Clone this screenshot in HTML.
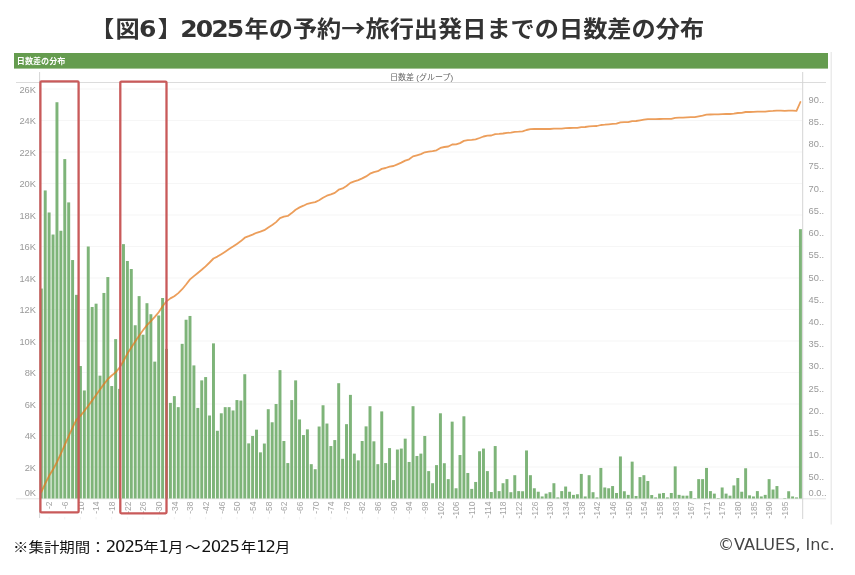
<!DOCTYPE html>
<html lang="ja"><head><meta charset="utf-8"><title>図6</title>
<style>
html,body{margin:0;padding:0;background:#fff;}
body{width:855px;height:575px;overflow:hidden;position:relative;font-family:"Liberation Sans","Noto Sans CJK JP",sans-serif;}
#title{position:absolute;left:89.5px;top:6.6px;font-family:"Noto Sans CJK JP",sans-serif;font-weight:bold;font-size:22.2px;line-height:40px;color:#333;white-space:nowrap;transform-origin:0 0;transform:scaleX(1.09);}
#title b{font-family:"DejaVu Sans",sans-serif;font-weight:bold;font-size:23px;letter-spacing:-1.8px;}
#foot{position:absolute;left:12.5px;top:533.9px;font-family:"Noto Sans CJK JP",sans-serif;font-size:14.1px;line-height:24px;color:#111;white-space:nowrap;transform-origin:0 0;transform:scaleX(1.096);}
#foot i{font-family:"DejaVu Sans",sans-serif;font-style:normal;font-size:15px;letter-spacing:-1.0px;}
#copy{position:absolute;left:718.1px;top:532.7px;font-family:"DejaVu Sans",sans-serif;font-size:16.5px;line-height:24px;color:#444;white-space:nowrap;transform-origin:0 0;transform:scaleX(0.975);}
svg{position:absolute;left:0;top:0;}
svg text{font-family:"Liberation Sans","Noto Sans CJK JP",sans-serif;}
</style></head><body>
<div id="title">【<span style="margin-left:1.2px">図</span><b style="margin-left:-0.7px">6</b><span style="margin-left:3.1px">】</span><b style="margin-left:-1.5px">2025</b><span style="margin-left:2.1px">年</span>の予約→旅行出発日までの日数差の分布</div>
<svg width="855" height="575" viewBox="0 0 855 575">

<rect x="14" y="53" width="814" height="15.6" fill="#659c4f"/>
<text x="16.8" y="64" font-size="8.1" font-weight="bold" fill="#fff">日数差の分布</text>
<line x1="831.2" y1="52" x2="831.2" y2="524.5" stroke="#e6e6e6" stroke-width="1.2"/>
<text x="421.6" y="80" font-size="8" fill="#666" text-anchor="middle">日数差 (グループ)</text>
<line x1="40" y1="467.00" x2="802" y2="467.00" stroke="#f6f6f6" stroke-width="1.2"/>
<line x1="40" y1="435.50" x2="802" y2="435.50" stroke="#f6f6f6" stroke-width="1.2"/>
<line x1="40" y1="404.00" x2="802" y2="404.00" stroke="#f6f6f6" stroke-width="1.2"/>
<line x1="40" y1="372.50" x2="802" y2="372.50" stroke="#f6f6f6" stroke-width="1.2"/>
<line x1="40" y1="341.00" x2="802" y2="341.00" stroke="#f6f6f6" stroke-width="1.2"/>
<line x1="40" y1="309.50" x2="802" y2="309.50" stroke="#f6f6f6" stroke-width="1.2"/>
<line x1="40" y1="278.00" x2="802" y2="278.00" stroke="#f6f6f6" stroke-width="1.2"/>
<line x1="40" y1="246.50" x2="802" y2="246.50" stroke="#f6f6f6" stroke-width="1.2"/>
<line x1="40" y1="215.00" x2="802" y2="215.00" stroke="#f6f6f6" stroke-width="1.2"/>
<line x1="40" y1="183.50" x2="802" y2="183.50" stroke="#f6f6f6" stroke-width="1.2"/>
<line x1="40" y1="152.00" x2="802" y2="152.00" stroke="#f6f6f6" stroke-width="1.2"/>
<line x1="40" y1="120.50" x2="802" y2="120.50" stroke="#f6f6f6" stroke-width="1.2"/>
<line x1="40" y1="89.00" x2="802" y2="89.00" stroke="#f6f6f6" stroke-width="1.2"/>
<line x1="16" y1="82.5" x2="826" y2="82.5" stroke="#dcdcdc" stroke-width="1"/>
<line x1="16" y1="498.8" x2="826" y2="498.8" stroke="#e4e4e4" stroke-width="1"/>
<line x1="39.6" y1="72" x2="39.6" y2="518" stroke="#d4d4d4" stroke-width="1"/>
<line x1="802.7" y1="72" x2="802.7" y2="519" stroke="#d4d4d4" stroke-width="1"/>
<text x="36" y="470.6" font-size="9.3" fill="#999" text-anchor="end">2K</text>
<text x="36" y="439.1" font-size="9.3" fill="#999" text-anchor="end">4K</text>
<text x="36" y="407.6" font-size="9.3" fill="#999" text-anchor="end">6K</text>
<text x="36" y="376.1" font-size="9.3" fill="#999" text-anchor="end">8K</text>
<text x="36" y="344.6" font-size="9.3" fill="#999" text-anchor="end">10K</text>
<text x="36" y="313.1" font-size="9.3" fill="#999" text-anchor="end">12K</text>
<text x="36" y="281.6" font-size="9.3" fill="#999" text-anchor="end">14K</text>
<text x="36" y="250.1" font-size="9.3" fill="#999" text-anchor="end">16K</text>
<text x="36" y="218.6" font-size="9.3" fill="#999" text-anchor="end">18K</text>
<text x="36" y="187.1" font-size="9.3" fill="#999" text-anchor="end">20K</text>
<text x="36" y="155.6" font-size="9.3" fill="#999" text-anchor="end">22K</text>
<text x="36" y="124.1" font-size="9.3" fill="#999" text-anchor="end">24K</text>
<text x="36" y="92.6" font-size="9.3" fill="#999" text-anchor="end">26K</text>
<text x="36" y="496.4" font-size="9.3" fill="#999" text-anchor="end">0K</text>
<text x="808.6" y="458.3" font-size="9.3" fill="#999">10..</text>
<text x="808.6" y="436.0" font-size="9.3" fill="#999">15..</text>
<text x="808.6" y="413.8" font-size="9.3" fill="#999">20..</text>
<text x="808.6" y="391.6" font-size="9.3" fill="#999">25..</text>
<text x="808.6" y="369.4" font-size="9.3" fill="#999">30..</text>
<text x="808.6" y="347.2" font-size="9.3" fill="#999">35..</text>
<text x="808.6" y="324.9" font-size="9.3" fill="#999">40..</text>
<text x="808.6" y="302.7" font-size="9.3" fill="#999">45..</text>
<text x="808.6" y="280.5" font-size="9.3" fill="#999">50..</text>
<text x="808.6" y="258.3" font-size="9.3" fill="#999">55..</text>
<text x="808.6" y="236.1" font-size="9.3" fill="#999">60..</text>
<text x="808.6" y="213.8" font-size="9.3" fill="#999">65..</text>
<text x="808.6" y="191.6" font-size="9.3" fill="#999">70..</text>
<text x="808.6" y="169.4" font-size="9.3" fill="#999">75..</text>
<text x="808.6" y="147.2" font-size="9.3" fill="#999">80..</text>
<text x="808.6" y="125.0" font-size="9.3" fill="#999">85..</text>
<text x="808.6" y="102.7" font-size="9.3" fill="#999">90..</text>
<text x="808.6" y="480.4" font-size="9.3" fill="#999">50..</text>
<text x="808.6" y="496.2" font-size="9.3" fill="#999">0.0..</text>
<g fill="#7eb479">
<rect x="39.82" y="288.55" width="2.95" height="209.95"/>
<rect x="43.74" y="190.43" width="2.95" height="308.07"/>
<rect x="47.65" y="212.48" width="2.95" height="286.02"/>
<rect x="51.56" y="234.53" width="2.95" height="263.97"/>
<rect x="55.48" y="102.23" width="2.95" height="396.27"/>
<rect x="59.39" y="230.75" width="2.95" height="267.75"/>
<rect x="63.30" y="159.09" width="2.95" height="339.41"/>
<rect x="67.22" y="202.40" width="2.95" height="296.10"/>
<rect x="71.13" y="260.04" width="2.95" height="238.46"/>
<rect x="75.04" y="294.85" width="2.95" height="203.65"/>
<rect x="78.95" y="366.04" width="2.95" height="132.46"/>
<rect x="82.87" y="390.45" width="2.95" height="108.05"/>
<rect x="86.78" y="246.50" width="2.95" height="252.00"/>
<rect x="90.69" y="306.98" width="2.95" height="191.52"/>
<rect x="94.61" y="303.67" width="2.95" height="194.83"/>
<rect x="98.52" y="375.65" width="2.95" height="122.85"/>
<rect x="102.43" y="292.96" width="2.95" height="205.54"/>
<rect x="106.35" y="277.05" width="2.95" height="221.45"/>
<rect x="110.26" y="386.05" width="2.95" height="112.45"/>
<rect x="114.17" y="339.11" width="2.95" height="159.39"/>
<rect x="118.08" y="388.88" width="2.95" height="109.62"/>
<rect x="122.00" y="244.14" width="2.95" height="254.36"/>
<rect x="125.91" y="260.99" width="2.95" height="237.51"/>
<rect x="129.82" y="269.02" width="2.95" height="229.48"/>
<rect x="133.74" y="325.25" width="2.95" height="173.25"/>
<rect x="137.65" y="296.11" width="2.95" height="202.39"/>
<rect x="141.56" y="334.70" width="2.95" height="163.80"/>
<rect x="145.48" y="303.20" width="2.95" height="195.30"/>
<rect x="149.39" y="314.23" width="2.95" height="184.27"/>
<rect x="153.30" y="361.63" width="2.95" height="136.87"/>
<rect x="157.22" y="315.49" width="2.95" height="183.01"/>
<rect x="161.13" y="298.00" width="2.95" height="200.50"/>
<rect x="165.04" y="348.88" width="2.95" height="149.62"/>
<rect x="168.95" y="402.90" width="2.95" height="95.60"/>
<rect x="172.87" y="396.12" width="2.95" height="102.38"/>
<rect x="176.78" y="407.15" width="2.95" height="91.35"/>
<rect x="180.69" y="343.84" width="2.95" height="154.66"/>
<rect x="184.61" y="319.74" width="2.95" height="178.76"/>
<rect x="188.52" y="315.96" width="2.95" height="182.54"/>
<rect x="192.43" y="365.41" width="2.95" height="133.09"/>
<rect x="196.34" y="407.94" width="2.95" height="90.56"/>
<rect x="200.26" y="380.38" width="2.95" height="118.12"/>
<rect x="204.17" y="377.07" width="2.95" height="121.43"/>
<rect x="208.08" y="415.50" width="2.95" height="83.00"/>
<rect x="212.00" y="343.36" width="2.95" height="155.14"/>
<rect x="215.91" y="430.77" width="2.95" height="67.73"/>
<rect x="219.82" y="413.29" width="2.95" height="85.21"/>
<rect x="223.74" y="407.15" width="2.95" height="91.35"/>
<rect x="227.65" y="407.15" width="2.95" height="91.35"/>
<rect x="231.56" y="410.46" width="2.95" height="88.04"/>
<rect x="235.47" y="400.06" width="2.95" height="98.44"/>
<rect x="239.39" y="400.54" width="2.95" height="97.96"/>
<rect x="243.30" y="374.23" width="2.95" height="124.27"/>
<rect x="247.21" y="443.38" width="2.95" height="55.12"/>
<rect x="251.13" y="435.97" width="2.95" height="62.53"/>
<rect x="255.04" y="429.67" width="2.95" height="68.83"/>
<rect x="258.95" y="452.35" width="2.95" height="46.15"/>
<rect x="262.87" y="443.53" width="2.95" height="54.97"/>
<rect x="266.78" y="409.20" width="2.95" height="89.30"/>
<rect x="270.69" y="422.27" width="2.95" height="76.23"/>
<rect x="274.60" y="404.00" width="2.95" height="94.50"/>
<rect x="278.52" y="370.14" width="2.95" height="128.36"/>
<rect x="282.43" y="441.01" width="2.95" height="57.49"/>
<rect x="286.34" y="463.06" width="2.95" height="35.44"/>
<rect x="290.26" y="400.06" width="2.95" height="98.44"/>
<rect x="294.17" y="380.38" width="2.95" height="118.12"/>
<rect x="298.08" y="419.44" width="2.95" height="79.06"/>
<rect x="302.00" y="435.03" width="2.95" height="63.47"/>
<rect x="305.91" y="429.36" width="2.95" height="69.14"/>
<rect x="309.82" y="464.17" width="2.95" height="34.33"/>
<rect x="313.73" y="469.20" width="2.95" height="29.30"/>
<rect x="317.65" y="426.52" width="2.95" height="71.98"/>
<rect x="321.56" y="405.26" width="2.95" height="93.24"/>
<rect x="325.47" y="423.53" width="2.95" height="74.97"/>
<rect x="329.39" y="446.05" width="2.95" height="52.45"/>
<rect x="333.30" y="440.07" width="2.95" height="58.43"/>
<rect x="337.21" y="383.21" width="2.95" height="115.29"/>
<rect x="341.13" y="458.81" width="2.95" height="39.69"/>
<rect x="345.04" y="424.16" width="2.95" height="74.34"/>
<rect x="348.95" y="394.87" width="2.95" height="103.63"/>
<rect x="352.86" y="453.61" width="2.95" height="44.89"/>
<rect x="356.78" y="460.38" width="2.95" height="38.12"/>
<rect x="360.69" y="441.01" width="2.95" height="57.49"/>
<rect x="364.60" y="426.37" width="2.95" height="72.13"/>
<rect x="368.52" y="406.20" width="2.95" height="92.30"/>
<rect x="372.43" y="441.33" width="2.95" height="57.17"/>
<rect x="376.34" y="464.17" width="2.95" height="34.33"/>
<rect x="380.26" y="411.40" width="2.95" height="87.10"/>
<rect x="384.17" y="463.06" width="2.95" height="35.44"/>
<rect x="388.08" y="448.10" width="2.95" height="50.40"/>
<rect x="391.99" y="480.07" width="2.95" height="18.43"/>
<rect x="395.91" y="449.52" width="2.95" height="48.98"/>
<rect x="399.82" y="448.57" width="2.95" height="49.93"/>
<rect x="403.73" y="438.65" width="2.95" height="59.85"/>
<rect x="407.65" y="461.96" width="2.95" height="36.54"/>
<rect x="411.56" y="406.20" width="2.95" height="92.30"/>
<rect x="415.47" y="455.98" width="2.95" height="42.52"/>
<rect x="419.39" y="453.61" width="2.95" height="44.89"/>
<rect x="423.30" y="435.97" width="2.95" height="62.53"/>
<rect x="427.21" y="471.10" width="2.95" height="27.40"/>
<rect x="431.12" y="483.22" width="2.95" height="15.28"/>
<rect x="435.04" y="465.11" width="2.95" height="33.39"/>
<rect x="438.95" y="413.29" width="2.95" height="85.21"/>
<rect x="442.86" y="463.22" width="2.95" height="35.28"/>
<rect x="446.78" y="479.13" width="2.95" height="19.37"/>
<rect x="450.69" y="421.64" width="2.95" height="76.86"/>
<rect x="454.60" y="488.26" width="2.95" height="10.24"/>
<rect x="458.52" y="455.03" width="2.95" height="43.47"/>
<rect x="462.43" y="416.29" width="2.95" height="82.21"/>
<rect x="466.34" y="472.99" width="2.95" height="25.51"/>
<rect x="470.25" y="488.89" width="2.95" height="9.61"/>
<rect x="474.17" y="481.96" width="2.95" height="16.54"/>
<rect x="478.08" y="451.25" width="2.95" height="47.25"/>
<rect x="481.99" y="448.57" width="2.95" height="49.93"/>
<rect x="485.91" y="471.10" width="2.95" height="27.40"/>
<rect x="489.82" y="492.04" width="2.95" height="6.46"/>
<rect x="493.73" y="446.05" width="2.95" height="52.45"/>
<rect x="497.65" y="491.10" width="2.95" height="7.40"/>
<rect x="501.56" y="483.22" width="2.95" height="15.28"/>
<rect x="505.47" y="479.13" width="2.95" height="19.37"/>
<rect x="509.38" y="492.20" width="2.95" height="6.30"/>
<rect x="513.30" y="475.19" width="2.95" height="23.31"/>
<rect x="517.21" y="491.10" width="2.95" height="7.40"/>
<rect x="521.12" y="491.25" width="2.95" height="7.25"/>
<rect x="525.04" y="450.46" width="2.95" height="48.04"/>
<rect x="528.95" y="475.19" width="2.95" height="23.31"/>
<rect x="532.86" y="488.26" width="2.95" height="10.24"/>
<rect x="536.78" y="491.73" width="2.95" height="6.77"/>
<rect x="540.69" y="496.45" width="2.95" height="2.05"/>
<rect x="544.60" y="493.62" width="2.95" height="4.88"/>
<rect x="548.51" y="492.20" width="2.95" height="6.30"/>
<rect x="552.43" y="483.22" width="2.95" height="15.28"/>
<rect x="556.34" y="497.40" width="2.95" height="1.10"/>
<rect x="560.25" y="491.10" width="2.95" height="7.40"/>
<rect x="564.17" y="486.53" width="2.95" height="11.97"/>
<rect x="568.08" y="491.73" width="2.95" height="6.77"/>
<rect x="571.99" y="494.88" width="2.95" height="3.62"/>
<rect x="575.91" y="494.25" width="2.95" height="4.25"/>
<rect x="579.82" y="473.93" width="2.95" height="24.57"/>
<rect x="583.73" y="496.45" width="2.95" height="2.05"/>
<rect x="587.64" y="475.19" width="2.95" height="23.31"/>
<rect x="591.56" y="492.20" width="2.95" height="6.30"/>
<rect x="595.47" y="497.40" width="2.95" height="1.10"/>
<rect x="599.38" y="467.94" width="2.95" height="30.56"/>
<rect x="603.30" y="487.48" width="2.95" height="11.02"/>
<rect x="607.21" y="488.26" width="2.95" height="10.24"/>
<rect x="611.12" y="486.06" width="2.95" height="12.44"/>
<rect x="615.04" y="492.99" width="2.95" height="5.51"/>
<rect x="618.95" y="456.45" width="2.95" height="42.05"/>
<rect x="622.86" y="491.25" width="2.95" height="7.25"/>
<rect x="626.77" y="494.88" width="2.95" height="3.62"/>
<rect x="630.69" y="461.64" width="2.95" height="36.86"/>
<rect x="634.60" y="495.98" width="2.95" height="2.52"/>
<rect x="638.51" y="477.08" width="2.95" height="21.42"/>
<rect x="642.43" y="475.19" width="2.95" height="23.31"/>
<rect x="646.34" y="481.02" width="2.95" height="17.48"/>
<rect x="650.25" y="495.04" width="2.95" height="3.46"/>
<rect x="654.17" y="497.40" width="2.95" height="1.10"/>
<rect x="658.08" y="493.62" width="2.95" height="4.88"/>
<rect x="661.99" y="492.99" width="2.95" height="5.51"/>
<rect x="665.90" y="497.40" width="2.95" height="1.10"/>
<rect x="669.82" y="492.99" width="2.95" height="5.51"/>
<rect x="673.73" y="466.37" width="2.95" height="32.13"/>
<rect x="677.64" y="494.88" width="2.95" height="3.62"/>
<rect x="681.56" y="495.67" width="2.95" height="2.83"/>
<rect x="685.47" y="495.67" width="2.95" height="2.83"/>
<rect x="689.38" y="491.10" width="2.95" height="7.40"/>
<rect x="693.30" y="498.03" width="2.95" height="0.47"/>
<rect x="697.21" y="479.13" width="2.95" height="19.37"/>
<rect x="701.12" y="479.13" width="2.95" height="19.37"/>
<rect x="705.03" y="467.94" width="2.95" height="30.56"/>
<rect x="708.95" y="491.10" width="2.95" height="7.40"/>
<rect x="712.86" y="493.62" width="2.95" height="4.88"/>
<rect x="716.77" y="498.03" width="2.95" height="0.47"/>
<rect x="720.69" y="487.48" width="2.95" height="11.02"/>
<rect x="724.60" y="493.62" width="2.95" height="4.88"/>
<rect x="728.51" y="495.67" width="2.95" height="2.83"/>
<rect x="732.43" y="485.43" width="2.95" height="13.07"/>
<rect x="736.34" y="478.02" width="2.95" height="20.48"/>
<rect x="740.25" y="491.73" width="2.95" height="6.77"/>
<rect x="744.16" y="468.26" width="2.95" height="30.24"/>
<rect x="748.08" y="495.35" width="2.95" height="3.15"/>
<rect x="751.99" y="496.45" width="2.95" height="2.05"/>
<rect x="755.90" y="491.10" width="2.95" height="7.40"/>
<rect x="759.82" y="496.45" width="2.95" height="2.05"/>
<rect x="763.73" y="494.88" width="2.95" height="3.62"/>
<rect x="767.64" y="479.13" width="2.95" height="19.37"/>
<rect x="771.56" y="489.52" width="2.95" height="8.98"/>
<rect x="775.47" y="486.06" width="2.95" height="12.44"/>
<rect x="783.29" y="498.03" width="2.95" height="0.47"/>
<rect x="787.21" y="491.25" width="2.95" height="7.25"/>
<rect x="791.12" y="496.45" width="2.95" height="2.05"/>
<rect x="795.03" y="497.40" width="2.95" height="1.10"/>
<rect x="798.95" y="229.17" width="2.95" height="269.33"/>
</g>
<line x1="49.13" y1="517" x2="49.13" y2="519.5" stroke="#f3f3f3" stroke-width="1"/>
<text transform="translate(52.43,501.5) rotate(-90)" font-size="8.5" fill="#a4a4a4" text-anchor="end">-2</text>
<line x1="64.78" y1="517" x2="64.78" y2="519.5" stroke="#f3f3f3" stroke-width="1"/>
<text transform="translate(68.08,501.5) rotate(-90)" font-size="8.5" fill="#a4a4a4" text-anchor="end">-6</text>
<line x1="80.43" y1="517" x2="80.43" y2="519.5" stroke="#f3f3f3" stroke-width="1"/>
<text transform="translate(83.73,501.5) rotate(-90)" font-size="8.5" fill="#a4a4a4" text-anchor="end">-10</text>
<line x1="96.08" y1="517" x2="96.08" y2="519.5" stroke="#f3f3f3" stroke-width="1"/>
<text transform="translate(99.38,501.5) rotate(-90)" font-size="8.5" fill="#a4a4a4" text-anchor="end">-14</text>
<line x1="111.73" y1="517" x2="111.73" y2="519.5" stroke="#f3f3f3" stroke-width="1"/>
<text transform="translate(115.03,501.5) rotate(-90)" font-size="8.5" fill="#a4a4a4" text-anchor="end">-18</text>
<line x1="127.39" y1="517" x2="127.39" y2="519.5" stroke="#f3f3f3" stroke-width="1"/>
<text transform="translate(130.69,501.5) rotate(-90)" font-size="8.5" fill="#a4a4a4" text-anchor="end">-22</text>
<line x1="143.04" y1="517" x2="143.04" y2="519.5" stroke="#f3f3f3" stroke-width="1"/>
<text transform="translate(146.34,501.5) rotate(-90)" font-size="8.5" fill="#a4a4a4" text-anchor="end">-26</text>
<line x1="158.69" y1="517" x2="158.69" y2="519.5" stroke="#f3f3f3" stroke-width="1"/>
<text transform="translate(161.99,501.5) rotate(-90)" font-size="8.5" fill="#a4a4a4" text-anchor="end">-30</text>
<line x1="174.34" y1="517" x2="174.34" y2="519.5" stroke="#f3f3f3" stroke-width="1"/>
<text transform="translate(177.64,501.5) rotate(-90)" font-size="8.5" fill="#a4a4a4" text-anchor="end">-34</text>
<line x1="189.99" y1="517" x2="189.99" y2="519.5" stroke="#f3f3f3" stroke-width="1"/>
<text transform="translate(193.29,501.5) rotate(-90)" font-size="8.5" fill="#a4a4a4" text-anchor="end">-38</text>
<line x1="205.65" y1="517" x2="205.65" y2="519.5" stroke="#f3f3f3" stroke-width="1"/>
<text transform="translate(208.95,501.5) rotate(-90)" font-size="8.5" fill="#a4a4a4" text-anchor="end">-42</text>
<line x1="221.30" y1="517" x2="221.30" y2="519.5" stroke="#f3f3f3" stroke-width="1"/>
<text transform="translate(224.60,501.5) rotate(-90)" font-size="8.5" fill="#a4a4a4" text-anchor="end">-46</text>
<line x1="236.95" y1="517" x2="236.95" y2="519.5" stroke="#f3f3f3" stroke-width="1"/>
<text transform="translate(240.25,501.5) rotate(-90)" font-size="8.5" fill="#a4a4a4" text-anchor="end">-50</text>
<line x1="252.60" y1="517" x2="252.60" y2="519.5" stroke="#f3f3f3" stroke-width="1"/>
<text transform="translate(255.90,501.5) rotate(-90)" font-size="8.5" fill="#a4a4a4" text-anchor="end">-54</text>
<line x1="268.25" y1="517" x2="268.25" y2="519.5" stroke="#f3f3f3" stroke-width="1"/>
<text transform="translate(271.55,501.5) rotate(-90)" font-size="8.5" fill="#a4a4a4" text-anchor="end">-58</text>
<line x1="283.91" y1="517" x2="283.91" y2="519.5" stroke="#f3f3f3" stroke-width="1"/>
<text transform="translate(287.21,501.5) rotate(-90)" font-size="8.5" fill="#a4a4a4" text-anchor="end">-62</text>
<line x1="299.56" y1="517" x2="299.56" y2="519.5" stroke="#f3f3f3" stroke-width="1"/>
<text transform="translate(302.86,501.5) rotate(-90)" font-size="8.5" fill="#a4a4a4" text-anchor="end">-66</text>
<line x1="315.21" y1="517" x2="315.21" y2="519.5" stroke="#f3f3f3" stroke-width="1"/>
<text transform="translate(318.51,501.5) rotate(-90)" font-size="8.5" fill="#a4a4a4" text-anchor="end">-70</text>
<line x1="330.86" y1="517" x2="330.86" y2="519.5" stroke="#f3f3f3" stroke-width="1"/>
<text transform="translate(334.16,501.5) rotate(-90)" font-size="8.5" fill="#a4a4a4" text-anchor="end">-74</text>
<line x1="346.51" y1="517" x2="346.51" y2="519.5" stroke="#f3f3f3" stroke-width="1"/>
<text transform="translate(349.81,501.5) rotate(-90)" font-size="8.5" fill="#a4a4a4" text-anchor="end">-78</text>
<line x1="362.17" y1="517" x2="362.17" y2="519.5" stroke="#f3f3f3" stroke-width="1"/>
<text transform="translate(365.47,501.5) rotate(-90)" font-size="8.5" fill="#a4a4a4" text-anchor="end">-82</text>
<line x1="377.82" y1="517" x2="377.82" y2="519.5" stroke="#f3f3f3" stroke-width="1"/>
<text transform="translate(381.12,501.5) rotate(-90)" font-size="8.5" fill="#a4a4a4" text-anchor="end">-86</text>
<line x1="393.47" y1="517" x2="393.47" y2="519.5" stroke="#f3f3f3" stroke-width="1"/>
<text transform="translate(396.77,501.5) rotate(-90)" font-size="8.5" fill="#a4a4a4" text-anchor="end">-90</text>
<line x1="409.12" y1="517" x2="409.12" y2="519.5" stroke="#f3f3f3" stroke-width="1"/>
<text transform="translate(412.42,501.5) rotate(-90)" font-size="8.5" fill="#a4a4a4" text-anchor="end">-94</text>
<line x1="424.77" y1="517" x2="424.77" y2="519.5" stroke="#f3f3f3" stroke-width="1"/>
<text transform="translate(428.07,501.5) rotate(-90)" font-size="8.5" fill="#a4a4a4" text-anchor="end">-98</text>
<line x1="440.43" y1="517" x2="440.43" y2="519.5" stroke="#f3f3f3" stroke-width="1"/>
<text transform="translate(443.73,501.5) rotate(-90)" font-size="8.5" fill="#a4a4a4" text-anchor="end">-102</text>
<line x1="456.08" y1="517" x2="456.08" y2="519.5" stroke="#f3f3f3" stroke-width="1"/>
<text transform="translate(459.38,501.5) rotate(-90)" font-size="8.5" fill="#a4a4a4" text-anchor="end">-106</text>
<line x1="471.73" y1="517" x2="471.73" y2="519.5" stroke="#f3f3f3" stroke-width="1"/>
<text transform="translate(475.03,501.5) rotate(-90)" font-size="8.5" fill="#a4a4a4" text-anchor="end">-110</text>
<line x1="487.38" y1="517" x2="487.38" y2="519.5" stroke="#f3f3f3" stroke-width="1"/>
<text transform="translate(490.68,501.5) rotate(-90)" font-size="8.5" fill="#a4a4a4" text-anchor="end">-114</text>
<line x1="503.03" y1="517" x2="503.03" y2="519.5" stroke="#f3f3f3" stroke-width="1"/>
<text transform="translate(506.33,501.5) rotate(-90)" font-size="8.5" fill="#a4a4a4" text-anchor="end">-118</text>
<line x1="518.69" y1="517" x2="518.69" y2="519.5" stroke="#f3f3f3" stroke-width="1"/>
<text transform="translate(521.99,501.5) rotate(-90)" font-size="8.5" fill="#a4a4a4" text-anchor="end">-122</text>
<line x1="534.34" y1="517" x2="534.34" y2="519.5" stroke="#f3f3f3" stroke-width="1"/>
<text transform="translate(537.64,501.5) rotate(-90)" font-size="8.5" fill="#a4a4a4" text-anchor="end">-126</text>
<line x1="549.99" y1="517" x2="549.99" y2="519.5" stroke="#f3f3f3" stroke-width="1"/>
<text transform="translate(553.29,501.5) rotate(-90)" font-size="8.5" fill="#a4a4a4" text-anchor="end">-130</text>
<line x1="565.64" y1="517" x2="565.64" y2="519.5" stroke="#f3f3f3" stroke-width="1"/>
<text transform="translate(568.94,501.5) rotate(-90)" font-size="8.5" fill="#a4a4a4" text-anchor="end">-134</text>
<line x1="581.29" y1="517" x2="581.29" y2="519.5" stroke="#f3f3f3" stroke-width="1"/>
<text transform="translate(584.59,501.5) rotate(-90)" font-size="8.5" fill="#a4a4a4" text-anchor="end">-138</text>
<line x1="596.95" y1="517" x2="596.95" y2="519.5" stroke="#f3f3f3" stroke-width="1"/>
<text transform="translate(600.25,501.5) rotate(-90)" font-size="8.5" fill="#a4a4a4" text-anchor="end">-142</text>
<line x1="612.60" y1="517" x2="612.60" y2="519.5" stroke="#f3f3f3" stroke-width="1"/>
<text transform="translate(615.90,501.5) rotate(-90)" font-size="8.5" fill="#a4a4a4" text-anchor="end">-146</text>
<line x1="628.25" y1="517" x2="628.25" y2="519.5" stroke="#f3f3f3" stroke-width="1"/>
<text transform="translate(631.55,501.5) rotate(-90)" font-size="8.5" fill="#a4a4a4" text-anchor="end">-150</text>
<line x1="643.90" y1="517" x2="643.90" y2="519.5" stroke="#f3f3f3" stroke-width="1"/>
<text transform="translate(647.20,501.5) rotate(-90)" font-size="8.5" fill="#a4a4a4" text-anchor="end">-154</text>
<line x1="659.55" y1="517" x2="659.55" y2="519.5" stroke="#f3f3f3" stroke-width="1"/>
<text transform="translate(662.85,501.5) rotate(-90)" font-size="8.5" fill="#a4a4a4" text-anchor="end">-158</text>
<line x1="675.21" y1="517" x2="675.21" y2="519.5" stroke="#f3f3f3" stroke-width="1"/>
<text transform="translate(678.51,501.5) rotate(-90)" font-size="8.5" fill="#a4a4a4" text-anchor="end">-163</text>
<line x1="690.86" y1="517" x2="690.86" y2="519.5" stroke="#f3f3f3" stroke-width="1"/>
<text transform="translate(694.16,501.5) rotate(-90)" font-size="8.5" fill="#a4a4a4" text-anchor="end">-167</text>
<line x1="706.51" y1="517" x2="706.51" y2="519.5" stroke="#f3f3f3" stroke-width="1"/>
<text transform="translate(709.81,501.5) rotate(-90)" font-size="8.5" fill="#a4a4a4" text-anchor="end">-171</text>
<line x1="722.16" y1="517" x2="722.16" y2="519.5" stroke="#f3f3f3" stroke-width="1"/>
<text transform="translate(725.46,501.5) rotate(-90)" font-size="8.5" fill="#a4a4a4" text-anchor="end">-175</text>
<line x1="737.81" y1="517" x2="737.81" y2="519.5" stroke="#f3f3f3" stroke-width="1"/>
<text transform="translate(741.11,501.5) rotate(-90)" font-size="8.5" fill="#a4a4a4" text-anchor="end">-180</text>
<line x1="753.47" y1="517" x2="753.47" y2="519.5" stroke="#f3f3f3" stroke-width="1"/>
<text transform="translate(756.77,501.5) rotate(-90)" font-size="8.5" fill="#a4a4a4" text-anchor="end">-185</text>
<line x1="769.12" y1="517" x2="769.12" y2="519.5" stroke="#f3f3f3" stroke-width="1"/>
<text transform="translate(772.42,501.5) rotate(-90)" font-size="8.5" fill="#a4a4a4" text-anchor="end">-190</text>
<line x1="784.77" y1="517" x2="784.77" y2="519.5" stroke="#f3f3f3" stroke-width="1"/>
<text transform="translate(788.07,501.5) rotate(-90)" font-size="8.5" fill="#a4a4a4" text-anchor="end">-195</text>
<polyline points="41.3,492.0 45.2,483.6 49.1,475.8 53.0,469.6 57.0,462.0 60.9,453.6 64.8,444.8 68.7,436.1 72.6,427.5 76.5,419.6 80.4,415.9 84.3,411.0 88.3,405.7 92.2,400.4 96.1,395.0 100.0,389.5 103.9,384.1 107.8,379.2 111.7,375.5 115.6,372.4 119.6,367.6 123.5,361.0 127.4,353.6 131.3,347.6 135.2,341.6 139.1,335.8 143.0,330.2 147.0,325.1 150.9,321.2 154.8,316.9 158.7,312.2 162.6,306.3 166.5,301.4 170.4,298.4 174.3,296.2 178.3,293.1 182.2,289.2 186.1,284.5 190.0,279.4 193.9,276.1 197.8,273.0 201.7,269.8 205.6,266.4 209.6,262.5 213.5,258.5 217.4,256.6 221.3,254.2 225.2,251.7 229.1,249.1 233.0,246.6 236.9,243.9 240.9,241.1 244.8,237.7 248.7,236.2 252.6,234.6 256.5,232.8 260.4,231.7 264.3,230.2 268.3,227.4 272.2,225.0 276.1,222.1 280.0,218.2 283.9,216.7 287.8,215.9 291.7,213.1 295.6,209.7 299.6,207.4 303.5,205.7 307.4,203.8 311.3,202.8 315.2,202.1 319.1,200.2 323.0,197.7 326.9,195.7 330.9,194.4 334.8,192.9 338.7,189.7 342.6,188.4 346.5,186.0 350.4,182.9 354.3,181.4 358.3,180.1 362.2,178.4 366.1,176.4 370.0,173.7 373.9,172.1 377.8,171.2 381.7,168.9 385.6,168.0 389.6,166.7 393.5,166.0 397.4,164.3 401.3,162.6 405.2,160.6 409.1,159.3 413.0,156.4 416.9,155.3 420.9,154.1 424.8,152.3 428.7,151.6 432.6,151.2 436.5,150.3 440.4,147.9 444.3,147.0 448.3,146.5 452.2,144.5 456.1,144.3 460.0,143.1 463.9,140.9 467.8,140.2 471.7,139.8 475.6,139.3 479.6,138.0 483.5,136.5 487.4,135.7 491.3,135.5 495.2,134.1 499.1,133.9 503.0,133.5 506.9,132.9 510.9,132.6 514.8,131.9 518.7,131.7 522.6,131.4 526.5,130.0 530.4,129.2 534.3,129.0 538.3,129.0 542.2,129.0 546.1,129.0 550.0,129.0 553.9,128.6 557.8,128.7 561.7,128.6 565.6,128.2 569.6,128.0 573.5,127.9 577.4,127.8 581.3,127.1 585.2,127.0 589.1,126.3 593.0,126.1 596.9,126.0 600.9,125.0 604.8,124.7 608.7,124.3 612.6,123.9 616.5,123.7 620.4,122.4 624.3,122.2 628.2,122.1 632.2,121.1 636.1,121.0 640.0,120.3 643.9,119.7 647.8,119.2 651.7,119.1 655.6,119.1 659.6,119.0 663.5,118.9 667.4,118.9 671.3,118.8 675.2,117.8 679.1,117.7 683.0,117.6 686.9,117.4 690.9,117.2 694.8,117.1 698.7,116.4 702.6,115.7 706.5,114.7 710.4,114.5 714.3,114.4 718.2,114.4 722.2,114.1 726.1,114.0 730.0,114.0 733.9,113.6 737.8,113.0 741.7,112.9 745.6,112.0 749.6,112.0 753.5,111.9 757.4,111.7 761.3,111.7 765.2,111.6 769.1,111.1 773.0,110.9 776.9,110.6 780.9,110.7 784.8,110.8 788.7,110.7 792.6,110.7 796.5,110.8 800.4,102.0" fill="none" stroke="#e5781c" stroke-opacity="0.72" stroke-width="1.8" stroke-linejoin="round" stroke-linecap="round"/>
<rect x="40.4" y="81.4" width="38.2" height="431" rx="1" fill="none" stroke="#c95a5a" stroke-width="2.3"/>
<rect x="120.3" y="81.6" width="46.2" height="431.7" rx="1" fill="none" stroke="#c95a5a" stroke-width="2.3"/>
</svg>
<div id="foot">※集計期間：<i>2025</i>年<i>1</i>月<span style="margin-left:1.4px">～</span><i style="margin-left:0.9px">2025</i><span style="margin-left:1.8px">年</span><i>12</i>月</div>
<div id="copy">©VALUES, Inc.</div>
</body></html>
